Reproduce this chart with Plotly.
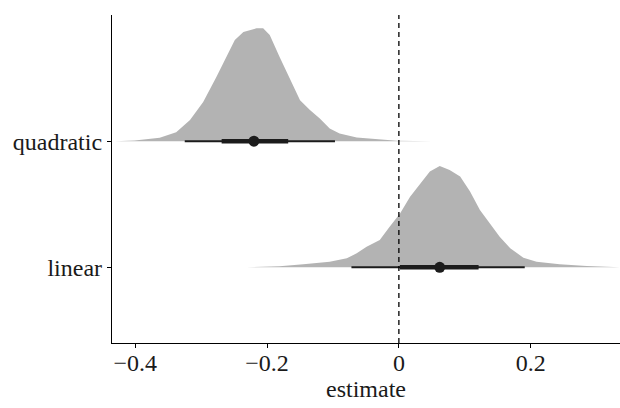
import plotly.graph_objects as go

# ---- data ----
categories = ["linear", "quadratic"]
cat_pos = [1, 2]

quad_x = [-0.431, -0.401, -0.363, -0.338, -0.317, -0.297, -0.277, -0.262, -0.249, -0.236,
          -0.216, -0.206, -0.196, -0.181, -0.166, -0.150, -0.135, -0.120, -0.105, -0.090,
          -0.064, -0.024, -0.003, 0.050]
quad_d = [0.0, 0.005, 0.027, 0.071, 0.167, 0.31, 0.508, 0.667, 0.802, 0.865,
          0.894, 0.894, 0.841, 0.667, 0.498, 0.325, 0.246, 0.18, 0.101, 0.061,
          0.029, 0.013, 0.004, 0.0]

lin_x = [-0.231, -0.181, -0.145, -0.105, -0.079, -0.064, -0.049, -0.029, -0.014, 0.002,
         0.017, 0.032, 0.047, 0.062, 0.077, 0.093, 0.108, 0.123, 0.138, 0.153,
         0.169, 0.189, 0.209, 0.244, 0.285, 0.336]
lin_d = [0.0, 0.008, 0.024, 0.044, 0.071, 0.111, 0.163, 0.217, 0.322, 0.429,
         0.56, 0.66, 0.759, 0.804, 0.772, 0.719, 0.6, 0.455, 0.349, 0.243,
         0.151, 0.076, 0.044, 0.024, 0.011, 0.002]

# point intervals: median, 66% interval, 95% interval
medians = [0.062, -0.220]
lo66 = [0.0015, -0.269]
hi66 = [0.121, -0.168]
lo95 = [-0.072, -0.325]
hi95 = [0.191, -0.097]

xticks = [-0.4, -0.2, 0, 0.2]
xticklabels = ["\u22120.4", "\u22120.2", "0", "0.2"]

SLAB = "#B3B3B3"
INK = "#1c1c1c"
FONT = "Liberation Serif"
FS = 24

fig = go.Figure()

slabs = {"linear": (lin_x, lin_d), "quadratic": (quad_x, quad_d)}
for cat, pos in zip(categories, cat_pos):
    xs, ds = slabs[cat]
    px = list(xs) + list(reversed(xs))
    py = [pos + d for d in ds] + [pos] * len(xs)
    fig.add_trace(go.Scatter(x=px, y=py, fill="toself", fillcolor=SLAB,
                             mode="lines", line=dict(width=0, color=SLAB),
                             hoverinfo="skip", showlegend=False))

for i, pos in enumerate(cat_pos):
    fig.add_trace(go.Scatter(x=[lo95[i], hi95[i]], y=[pos, pos], mode="lines",
                             line=dict(color=INK, width=2), showlegend=False))
    fig.add_trace(go.Scatter(x=[lo66[i], hi66[i]], y=[pos, pos], mode="lines",
                             line=dict(color=INK, width=4.5), showlegend=False))
    fig.add_trace(go.Scatter(x=[medians[i]], y=[pos], mode="markers",
                             marker=dict(color=INK, size=11), showlegend=False))

fig.add_shape(type="line", x0=0, x1=0, y0=0, y1=1, xref="x", yref="paper",
              line=dict(color="black", width=1.3, dash="5px,4px"))

fig.add_annotation(text="estimate", x=0.5, xref="paper", y=(343 - 389) / 328.0,
                   yref="paper", yanchor="middle", showarrow=False,
                   font=dict(family=FONT, size=FS, color="#1a1a1a"))

fig.update_layout(
    width=620, height=408,
    margin=dict(l=112, r=0, t=15, b=65),
    paper_bgcolor="white", plot_bgcolor="white",
    font=dict(family=FONT, size=FS, color="#1a1a1a"),
    xaxis=dict(range=[-0.4354, 0.3356], tickvals=xticks, ticktext=xticklabels,
               showgrid=False, zeroline=False, showline=True, linecolor="black",
               linewidth=1.3, ticks="outside", ticklen=4, tickcolor="black",
               tickwidth=1.2, automargin=False, ticklabelstandoff=-6),
    yaxis=dict(range=[0.4, 3.0], tickvals=cat_pos, ticktext=categories,
               showgrid=False, zeroline=False, showline=True, linecolor="black",
               linewidth=1.3, ticks="outside", ticklen=4, tickcolor="black",
               tickwidth=1.2, automargin=False),
)

fig.write_html("out.html", config={"displayModeBar": False},
               post_script="document.body.style.margin='0';")
